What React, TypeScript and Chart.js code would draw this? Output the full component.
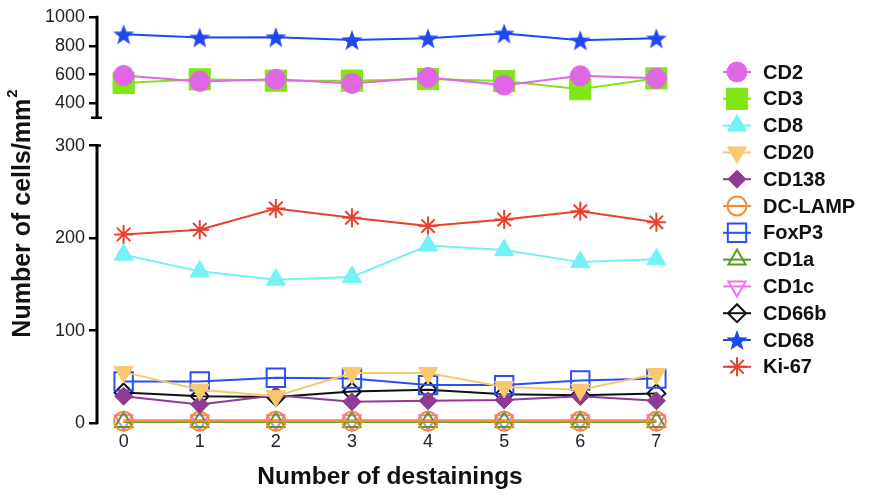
import React, { useEffect, useRef } from 'react';
import { Chart, registerables } from 'chart.js';
import { drawPoint } from 'chart.js/helpers';

Chart.register(...registerables);

const FONT = "'Liberation Sans', Arial, Helvetica, sans-serif";

// ---- data ----
const destainings = [0, 1, 2, 3, 4, 5, 6, 7];
const topTicks = [400, 600, 800, 1000];
const bottomTicks = [0, 100, 200, 300];
const topAxisRange = [300, 1000];
const bottomAxisRange = [0, 300];

const CD2 = [594, 553, 567, 539, 580, 527, 592, 574];
const CD3 = [542, 567, 558, 558, 569, 555, 499, 574];
const CD8 = [182, 164, 155, 158, 192, 187, 174, 177];
const CD20 = [55, 36, 29, 54, 54, 39, 36, 53];
const CD138 = [29, 20, 30, 23, 24, 25, 29, 24];
const DCLAMP = [2, 2, 2, 2, 2, 2, 2, 2];
const FoxP3 = [45, 45, 49, 48, 41, 41, 46, 48];
const CD1a = [1, 1, 1, 1, 1, 1, 1, 1];
const CD1c = [3, 3, 3, 3, 3, 3, 3, 3];
const CD66b = [33, 29, 28, 34, 36, 31, 30, 32];
const CD68 = [880, 858, 860, 840, 852, 886, 838, 852];
const Ki67 = [204, 209, 232, 222, 213, 220, 229, 217];

function makeStar(color: string) {
  const c = document.createElement('canvas');
  c.width = 26;
  c.height = 26;
  const ctx = c.getContext('2d')!;
  const cx = 13, cy = 14, R = 11, r = 4.6;
  ctx.beginPath();
  for (let i = 0; i < 10; i++) {
    const ang = -Math.PI / 2 + (i * Math.PI) / 5;
    const rad = i % 2 === 0 ? R : r;
    ctx.lineTo(cx + rad * Math.cos(ang), cy + rad * Math.sin(ang));
  }
  ctx.closePath();
  ctx.fillStyle = color;
  ctx.fill();
  return c;
}

function series(label: string, values: number[], yAxisID: string, color: string, pointStyle: any, radius: number, filled: boolean, rotation = 0) {
  return {
    label,
    data: destainings.map((x, i) => ({ x, y: values[i] })),
    yAxisID,
    borderColor: color,
    borderWidth: 2,
    pointStyle,
    pointRadius: radius,
    pointHoverRadius: radius,
    pointRotation: rotation,
    pointBackgroundColor: filled ? color : 'rgba(0,0,0,0)',
    pointBorderColor: color,
    pointBorderWidth: filled ? 1 : 2,
    clip: false as any,
    tension: 0,
    fill: false,
  };
}

const axisPlugin = {
  id: 'brokenAxis',
  beforeDatasetsDraw(chart: any) {
    const { ctx, chartArea, scales } = chart;
    const x = chartArea.left;
    ctx.save();
    ctx.strokeStyle = '#000';
    ctx.lineWidth = 3;
    const t1 = scales.yTop.getPixelForValue(topAxisRange[1]);
    const t0 = scales.yTop.getPixelForValue(topAxisRange[0]);
    const b1 = scales.yBottom.getPixelForValue(bottomAxisRange[1]);
    const b0 = scales.yBottom.getPixelForValue(bottomAxisRange[0]);
    ctx.beginPath();
    ctx.moveTo(x, t1 - 1.25);
    ctx.lineTo(x, t0);
    ctx.moveTo(x, b1 - 1.25);
    ctx.lineTo(x, b0 + 1.25);
    ctx.stroke();
    ctx.lineWidth = 2.5;
    ctx.beginPath();
    ctx.moveTo(x - 6, t0);
    ctx.lineTo(x + 5, t0);
    ctx.moveTo(x - 1, b1);
    ctx.lineTo(x + 4, b1);
    ctx.stroke();
    ctx.restore();
  },
};

const legendPlugin = {
  id: 'sideLegend',
  afterDraw(chart: any) {
    const { ctx, chartArea } = chart;
    const mx = chartArea.right + 54;
    const tx = chartArea.right + 80;
    const y0 = 72;
    const dy = 26.8;
    chart.data.datasets.forEach((ds: any, i: number) => {
      const y = y0 + i * dy;
      ctx.save();
      ctx.strokeStyle = ds.borderColor;
      ctx.lineWidth = 2;
      ctx.beginPath();
      ctx.moveTo(mx - 14, y);
      ctx.lineTo(mx + 14, y);
      ctx.stroke();
      ctx.fillStyle = ds.pointBackgroundColor;
      ctx.strokeStyle = ds.pointBorderColor;
      ctx.lineWidth = ds.pointBorderWidth;
      drawPoint(ctx, { pointStyle: ds.pointStyle, rotation: ds.pointRotation || 0, radius: ds.pointRadius, borderWidth: ds.pointBorderWidth } as any, mx, y);
      ctx.fillStyle = '#111';
      ctx.font = `bold 20px ${FONT}`;
      ctx.textBaseline = 'middle';
      ctx.textAlign = 'left';
      ctx.fillText(ds.label, tx, y + 1);
      ctx.restore();
    });
  },
};

const yTitlePlugin = {
  id: 'yTitle',
  afterDraw(chart: any) {
    const { ctx, chartArea } = chart;
    const cy = (chartArea.top + chartArea.bottom) / 2 - 6;
    const cx = 23;
    const main = 'Number of cells/mm';
    const sup = '2';
    ctx.save();
    ctx.translate(cx, cy);
    ctx.rotate(-Math.PI / 2);
    ctx.font = `bold 25px ${FONT}`;
    const w1 = ctx.measureText(main).width;
    ctx.font = `bold 15px ${FONT}`;
    const w2 = ctx.measureText(sup).width;
    const start = -(w1 + w2) / 2;
    ctx.fillStyle = '#111';
    ctx.textBaseline = 'middle';
    ctx.textAlign = 'left';
    ctx.font = `bold 25px ${FONT}`;
    ctx.fillText(main, start, 0);
    ctx.font = `bold 15px ${FONT}`;
    ctx.fillText(sup, start + w1 + 1, -10);
    ctx.restore();
  },
};

export default function App() {
  const ref = useRef<HTMLCanvasElement>(null);
  useEffect(() => {
    document.body.style.margin = '0';
    Chart.defaults.font.family = FONT;
    const star = makeStar('#2048F0');
    const datasets = [
      series('CD2', CD2, 'yTop', '#E066E6', 'circle', 10, true),
      series('CD3', CD3, 'yTop', '#80E619', 'rect', 15, true),
      series('CD8', CD8, 'yBottom', '#72F2F2', 'triangle', 11, true),
      series('CD20', CD20, 'yBottom', '#F9C76E', 'triangle', 11, true, 180),
      series('CD138', CD138, 'yBottom', '#8E3B93', 'rectRot', 9, true),
      series('DC-LAMP', DCLAMP, 'yBottom', '#F28B2C', 'circle', 9.5, false),
      series('FoxP3', FoxP3, 'yBottom', '#2A4FF5', 'rect', 13, false),
      series('CD1a', CD1a, 'yBottom', '#5A9A21', 'triangle', 10, false),
      series('CD1c', CD1c, 'yBottom', '#F070F0', 'triangle', 10, false, 180),
      series('CD66b', CD66b, 'yBottom', '#111111', 'rectRot', 9, false),
      series('CD68', CD68, 'yTop', '#2048F0', star, 11, true),
      series('Ki-67', Ki67, 'yBottom', '#E8412F', 'star', 9.5, false),
    ];
    const yCommon = {
      type: 'linear',
      position: 'left',
      stack: 'y',
      border: { display: false },
      grid: { display: true, drawOnChartArea: false, drawTicks: true, tickLength: 8, lineWidth: 2.5, color: '#000' },
      ticks: { font: { size: 18 }, color: '#222', padding: 4, autoSkip: false, callback: (v: any) => String(v) },
      afterFit: (s: any) => { s.width = 65; },
    };
    const chart = new Chart(ref.current!, {
      type: 'line',
      data: { datasets: datasets as any },
      options: {
        responsive: false,
        animation: false,
        layout: { padding: { left: 32, right: 196, top: 17, bottom: 0 } },
        plugins: { legend: { display: false }, tooltip: { enabled: false } },
        scales: {
          x: {
            type: 'linear',
            min: -0.35,
            max: 7.35,
            grid: { display: false, drawTicks: false, tickLength: 0 },
            border: { display: false },
            afterBuildTicks: (s: any) => { s.ticks = destainings.map((v) => ({ value: v })); },
            ticks: { font: { size: 18 }, color: '#222', padding: 8.5, autoSkip: false, callback: (v: any) => String(v) },
            title: { display: true, text: 'Number of destainings', font: { size: 24.5, weight: 'bold' }, color: '#111', padding: { top: 1, bottom: 3 } },
          },
          yTop: {
            ...yCommon,
            stackWeight: 114,
            weight: 1,
            min: 204.5,
            max: 1000,
            afterBuildTicks: (s: any) => { s.ticks = topTicks.map((v) => ({ value: v })); },
          } as any,
          yBottom: {
            ...yCommon,
            stackWeight: 290,
            weight: 0,
            min: 0,
            max: 315.2,
            afterBuildTicks: (s: any) => { s.ticks = bottomTicks.map((v) => ({ value: v })); },
          } as any,
        },
      },
      plugins: [axisPlugin, legendPlugin, yTitlePlugin],
    });
    return () => chart.destroy();
  }, []);
  return <canvas ref={ref} width={879} height={495} style={{ display: 'block', width: 879, height: 495 }} />;
}
